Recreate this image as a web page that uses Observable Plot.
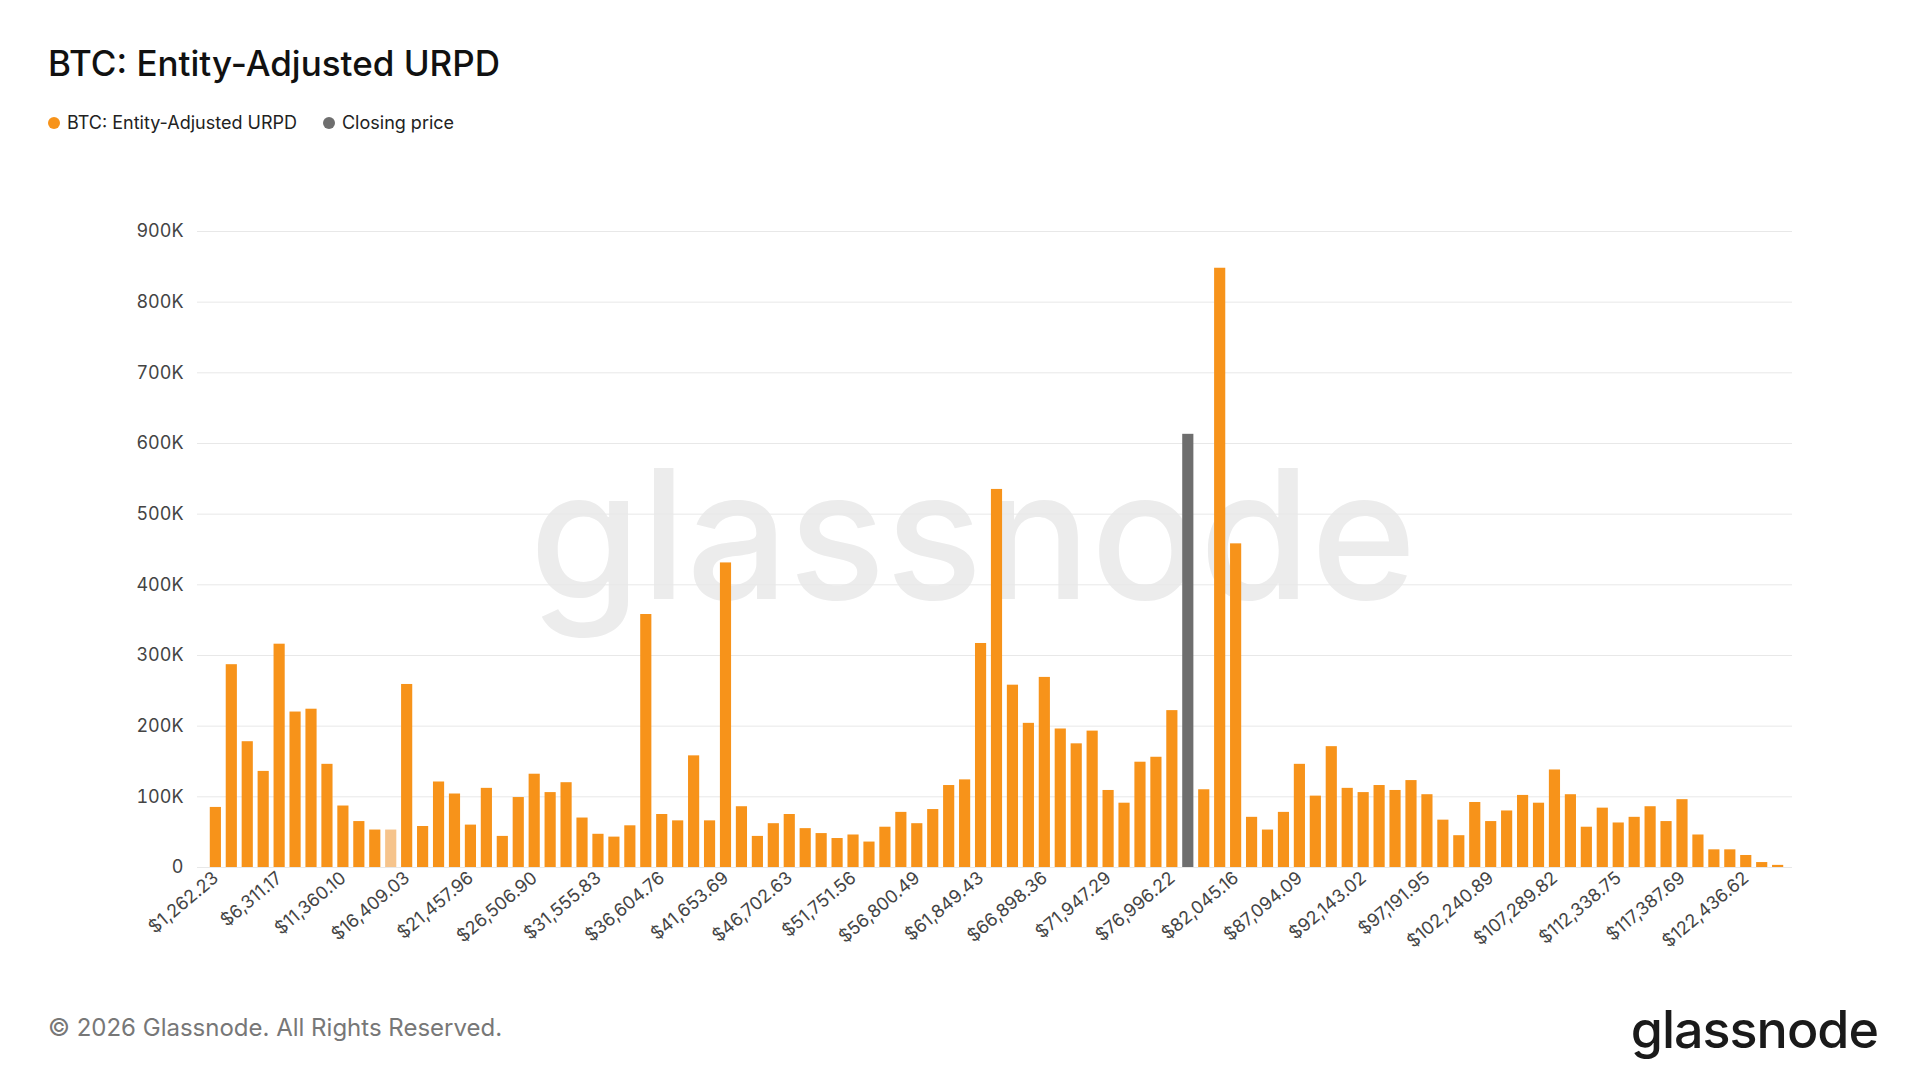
<!DOCTYPE html>
<html><head><meta charset="utf-8">
<script src="https://cdn.jsdelivr.net/npm/d3@7"></script>
<script src="https://cdn.jsdelivr.net/npm/@observablehq/plot@0.6"></script>
<style>
body{margin:0;background:#fff;font-family:Inter,"Noto Sans",sans-serif;width:1920px;height:1080px;position:relative;overflow:hidden}
#title{position:absolute;left:48px;top:42px;font-size:35px;color:#111;font-weight:500}
#legend{position:absolute;left:48px;top:112px;font-size:18px;color:#222;display:flex;gap:26px}
#legend span{display:flex;align-items:center;gap:7px}
#legend i{width:12px;height:12px;border-radius:50%;display:inline-block}
#chart{position:absolute;left:0;top:160px}
#copy{position:absolute;left:48px;top:1013px;font-size:24px;color:#777}
#logo{position:absolute;right:42px;top:998px;font-size:52px;color:#1a1a1a;font-weight:500;letter-spacing:-1px}
</style></head><body>
<div id="title">BTC: Entity-Adjusted URPD</div>
<div id="legend"><span><i style="background:#f7931a"></i>BTC: Entity-Adjusted URPD</span><span><i style="background:#6e6e6e"></i>Closing price</span></div>
<div id="chart"></div>
<div id="copy">© 2026 Glassnode. All Rights Reserved.</div>
<div id="logo">glassnode</div>
<script>
const tickLabels = ["$1,262.23","$6,311.17","$11,360.10","$16,409.03","$21,457.96","$26,506.90","$31,555.83","$36,604.76","$41,653.69","$46,702.63","$51,751.56","$56,800.49","$61,849.43","$66,898.36","$71,947.29","$76,996.22","$82,045.16","$87,094.09","$92,143.02","$97,191.95","$102,240.89","$107,289.82","$112,338.75","$117,387.69","$122,436.62"];
const supply = [85,287,178,136,316,220,224,146,87,65,53,53,259,58,121,104,60,112,44,99,132,106,120,70,47,43,59,358,75,66,158,66,431,86,44,62,75,55,48,41,46,36,57,78,62,82,116,124,317,535,258,204,269,196,175,193,109,91,149,156,222,613,110,848,458,71,53,78,146,101,171,112,106,116,109,123,103,67,45,92,65,80,102,91,138,103,57,84,63,71,86,65,96,46,25,25,17,7,3].map(v=>v*1000);
const closingIndex = 61;
const fadedIndex = 11;
const yTicks = [0,100000,200000,300000,400000,500000,600000,700000,800000,900000];
const bins = supply.map((_, i) => i);
const tickBins = tickLabels.map((_, k) => k*4);
const data = supply.map((v,i)=>({bin:i, v, kind: i===closingIndex?"close":(i===fadedIndex?"faded":"urpd")}));
const yfmt = d=>d===0?"0":(d/1000)+"K";
const chart = Plot.plot({
  width:1920, height:780,
  marginTop:71, marginBottom:73, marginLeft:197, marginRight:128,
  style:{fontFamily:"Inter, 'Noto Sans', sans-serif", fontSize:"17px", color:"#444", overflow:"visible"},
  x:{type:"band", domain:bins, padding:0.3, label:null, insetLeft:8, insetRight:4},
  y:{domain:[0,900000], label:null},
  color:{domain:["urpd","faded","close"], range:["#f7931a","#f6c48c","#6e6e6e"]},
  marks:[
    Plot.text(["glassnode"],{frameAnchor:"middle", dx:-22, dy:-8, fontSize:180, fill:"#ececec", fontWeight:500}),
    Plot.gridY(yTicks,{stroke:"#e8e8e8", strokeOpacity:1}),
    Plot.barY(data,{x:"bin", y:"v", fill:"kind"}),
    Plot.axisY(yTicks,{tickSize:0, tickPadding:14, tickFormat:yfmt, fontSize:18, label:null}),
    Plot.axisX(tickBins,{tickFormat:i=>tickLabels[i/4], tickRotate:-40, tickSize:0, tickPadding:8, fontSize:18, label:null})
  ]
});
document.getElementById("chart").appendChild(chart);
</script>
</body></html>
